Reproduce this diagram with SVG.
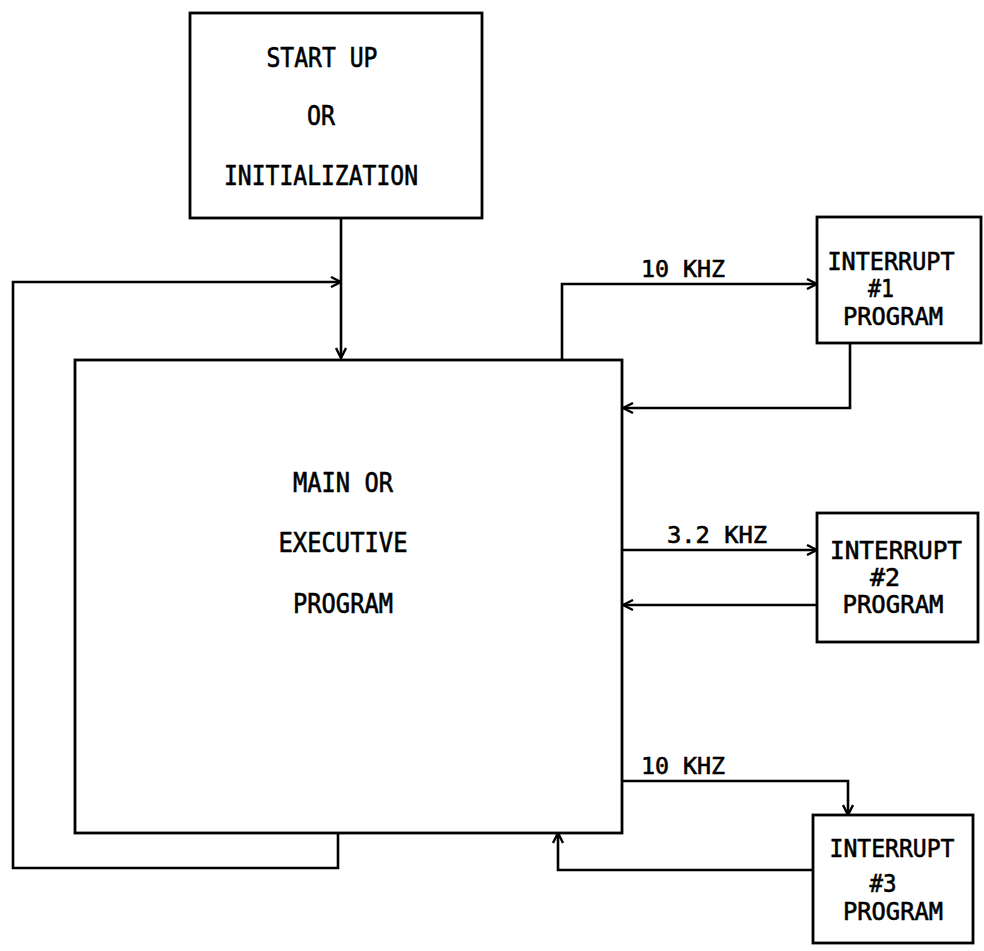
<svg xmlns="http://www.w3.org/2000/svg" width="984" height="951" viewBox="0 0 984 951">
  <defs>
    <marker id="arrow" viewBox="0 0 12 12" refX="11" refY="6" markerWidth="12" markerHeight="12" markerUnits="userSpaceOnUse" orient="auto">
      <path d="M1,1 L11,6 L1,11" fill="none" stroke="#000" stroke-width="2.4"/>
    </marker>
  </defs>
  <style>
    .box { fill: #fff; stroke: #000; stroke-width: 2.8; }
    .wire { fill: none; stroke: #000; stroke-width: 2.6; marker-end: url(#arrow); }
    text { font-family: "DejaVu Sans Mono", "Liberation Mono", monospace; fill: #000; stroke: #000; stroke-width: 0.6; text-anchor: middle; }
    .big { font-size: 26px; }
    .mid { font-size: 24px; }
    .lbl { font-size: 23px; }
  </style>
  <rect width="984" height="951" fill="#fff"/>

  <!-- connectors -->
  <g id="connectors">
    <path class="wire" d="M341,218 V358"/>
    <path class="wire" d="M338,832 V868 H13 V282 H341"/>
    <path class="wire" d="M562,360 V284 H817"/>
    <path class="wire" d="M850,343 V408 H623"/>
    <path class="wire" d="M622,550 H817"/>
    <path class="wire" d="M817,605 H623"/>
    <path class="wire" d="M622,781 H848 V815"/>
    <path class="wire" d="M813,870 H558 V833"/>
    <text class="lbl" x="683" y="277" textLength="84" lengthAdjust="spacingAndGlyphs">10 KHZ</text>
    <text class="lbl" x="717" y="543" textLength="100" lengthAdjust="spacingAndGlyphs">3.2 KHZ</text>
    <text class="lbl" x="683" y="774" textLength="84" lengthAdjust="spacingAndGlyphs">10 KHZ</text>
  </g>

  <!-- start-up block -->
  <g id="startup">
    <rect class="box" x="190" y="13" width="292" height="205"/>
    <text class="big" x="322" y="67" textLength="111" lengthAdjust="spacingAndGlyphs">START UP</text>
    <text class="big" x="321" y="125" textLength="28" lengthAdjust="spacingAndGlyphs">OR</text>
    <text class="big" x="321" y="185" textLength="194" lengthAdjust="spacingAndGlyphs">INITIALIZATION</text>
  </g>

  <!-- main / executive program -->
  <g id="main">
    <rect class="box" x="75" y="360" width="547" height="473"/>
    <text class="big" x="343" y="492" textLength="100" lengthAdjust="spacingAndGlyphs">MAIN OR</text>
    <text class="big" x="343" y="552" textLength="129" lengthAdjust="spacingAndGlyphs">EXECUTIVE</text>
    <text class="big" x="343" y="613" textLength="100" lengthAdjust="spacingAndGlyphs">PROGRAM</text>
  </g>

  <!-- interrupt 1 -->
  <g id="interrupt1">
    <rect class="box" x="817" y="217" width="164" height="126"/>
    <text class="mid" x="891" y="270" textLength="127" lengthAdjust="spacingAndGlyphs">INTERRUPT</text>
    <text class="mid" x="881" y="297" textLength="26" lengthAdjust="spacingAndGlyphs">#1</text>
    <text class="mid" x="893" y="325" textLength="100" lengthAdjust="spacingAndGlyphs">PROGRAM</text>
  </g>

  <!-- interrupt 2 -->
  <g id="interrupt2">
    <rect class="box" x="817" y="513" width="161" height="129"/>
    <text class="mid" x="896" y="559" textLength="132" lengthAdjust="spacingAndGlyphs">INTERRUPT</text>
    <text class="mid" x="885" y="586" textLength="30" lengthAdjust="spacingAndGlyphs">#2</text>
    <text class="mid" x="893" y="613" textLength="101" lengthAdjust="spacingAndGlyphs">PROGRAM</text>
  </g>

  <!-- interrupt 3 -->
  <g id="interrupt3">
    <rect class="box" x="813" y="815" width="160" height="128"/>
    <text class="mid" x="892" y="857" textLength="125" lengthAdjust="spacingAndGlyphs">INTERRUPT</text>
    <text class="mid" x="883" y="892" textLength="27" lengthAdjust="spacingAndGlyphs">#3</text>
    <text class="mid" x="893" y="920" textLength="100" lengthAdjust="spacingAndGlyphs">PROGRAM</text>
  </g>
</svg>
